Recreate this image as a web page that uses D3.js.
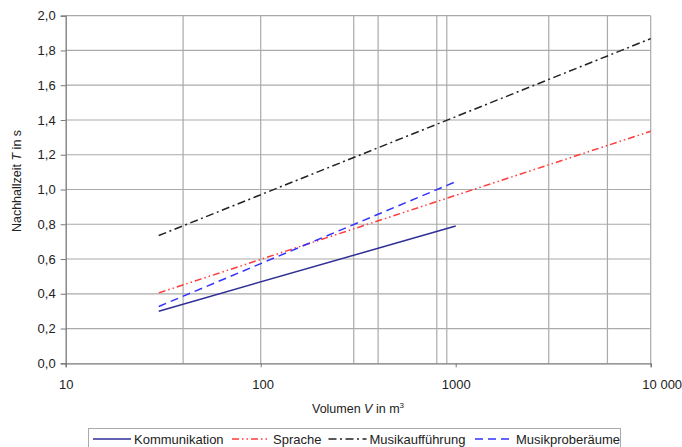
<!DOCTYPE html>
<html>
<head>
<meta charset="utf-8">
<script src="https://cdn.jsdelivr.net/npm/d3@7"></script>
<style>
  body { margin: 0; background: #fff; }
  text { font-family: "Liberation Sans", Arial, sans-serif; fill: #222; }
</style>
</head>
<body>
<div id="chart"></div>
<script>
// Chart data (volume in m3, reverberation time in s)
const seriesNames = ["Kommunikation", "Sprache", "Musikaufführung", "Musikproberäume"];
const kommunikation = [[30, 0.30], [1000, 0.79]];
const sprache = [[30, 0.405], [10000, 1.335]];
const musikauffuehrung = [[30, 0.735], [10000, 1.868]];
const musikproberaeume = [[30, 0.327], [1000, 1.045]];
const xTicks = [10, 100, 1000, 10000];
const xTickLabels = ["10", "100", "1000", "10 000"];
const xGrid = [40, 100, 300, 400, 800, 900, 3000, 6000];
const yTicks = [0, 0.2, 0.4, 0.6, 0.8, 1.0, 1.2, 1.4, 1.6, 1.8, 2.0];

const width = 682, height = 447;
const plotLeft = 65.7, plotRight = 650.7, plotTop = 15.7, plotBottom = 363.3;

const svg = d3.select("#chart").append("svg")
    .attr("width", width)
    .attr("height", height);

const x = d3.scaleLog().domain([10, 10000]).range([plotLeft, plotRight]);
const y = d3.scaleLinear().domain([0, 2]).range([plotBottom, plotTop]);

// horizontal grid
svg.append("g").selectAll("line")
    .data(yTicks.slice(1))
    .enter().append("line")
    .attr("x1", plotLeft).attr("x2", plotRight)
    .attr("y1", d => y(d)).attr("y2", d => y(d))
    .attr("stroke", "#aaa").attr("stroke-width", 1.2);

// vertical grid
svg.append("g").selectAll("line")
    .data(xGrid)
    .enter().append("line")
    .attr("x1", d => x(d)).attr("x2", d => x(d))
    .attr("y1", plotTop).attr("y2", plotBottom)
    .attr("stroke", "#aaa").attr("stroke-width", 1.2);

// right border
svg.append("line")
    .attr("x1", plotRight).attr("x2", plotRight)
    .attr("y1", plotTop).attr("y2", plotBottom)
    .attr("stroke", "#aaa").attr("stroke-width", 1.2);

// y axis
const yAxis = svg.append("g")
    .attr("transform", `translate(${plotLeft},0)`)
    .call(d3.axisLeft(y).tickValues(yTicks).tickSize(5).tickPadding(5)
        .tickFormat(d => d3.format(".1f")(d).replace(".", ",")));
yAxis.select(".domain").attr("stroke", "#777").attr("stroke-width", 1.3);
yAxis.selectAll(".tick line").attr("stroke", "#777");
yAxis.selectAll("text").attr("font-size", 13).attr("fill", "#222")
    .attr("font-family", "Liberation Sans, Arial, sans-serif");

// x axis
const xAxis = svg.append("g")
    .attr("transform", `translate(0,${plotBottom})`)
    .call(d3.axisBottom(x).tickValues(xTicks).tickSize(4).tickPadding(12)
        .tickFormat((d, i) => xTickLabels[i]));
xAxis.select(".domain").attr("stroke", "#777").attr("stroke-width", 1.3);
xAxis.selectAll(".tick line").attr("stroke", "#777");
xAxis.selectAll("text").attr("font-size", 13).attr("fill", "#222")
    .attr("font-family", "Liberation Sans, Arial, sans-serif")
    .attr("dx", (d, i) => i === 3 ? 11 : (i === 1 ? 2 : 0));

// axis titles
const yTitle = svg.append("text")
    .attr("transform", `translate(21,181) rotate(-90)`)
    .attr("text-anchor", "middle")
    .attr("font-size", 12.5);
yTitle.append("tspan").text("Nachhallzeit ");
yTitle.append("tspan").attr("font-style", "italic").text("T");
yTitle.append("tspan").text(" in s");

const xTitle = svg.append("text")
    .attr("x", 358).attr("y", 413)
    .attr("text-anchor", "middle")
    .attr("font-size", 12.5);
xTitle.append("tspan").text("Volumen ");
xTitle.append("tspan").attr("font-style", "italic").text("V");
xTitle.append("tspan").text(" in m");
xTitle.append("tspan").attr("font-size", 8).attr("dy", -5).text("3");

// series
const series = [
    { name: seriesNames[0], data: kommunikation, color: "#2e2e96", dash: null },
    { name: seriesNames[1], data: sprache, color: "#ff3b3b", dash: "7,3,1.5,3,1.5,3" },
    { name: seriesNames[2], data: musikauffuehrung, color: "#222", dash: "8,3.5,2,3.5" },
    { name: seriesNames[3], data: musikproberaeume, color: "#3232ff", dash: "8,5" }
];

const line = d3.line().x(d => x(d[0])).y(d => y(d[1]));

svg.append("g").selectAll("path")
    .data(series)
    .enter().append("path")
    .attr("d", d => line(d.data))
    .attr("fill", "none")
    .attr("stroke", d => d.color)
    .attr("stroke-width", 1.5)
    .attr("stroke-dasharray", d => d.dash);

// legend
const legend = svg.append("g");
legend.append("rect")
    .attr("x", 88.5).attr("y", 428.5)
    .attr("width", 532).attr("height", 22)
    .attr("fill", "#fff").attr("stroke", "#aaa");

const legendX = [93, 232, 328.5, 475];
const items = legend.selectAll("g.item")
    .data(series)
    .enter().append("g")
    .attr("transform", (d, i) => `translate(${legendX[i]},439)`);
items.append("line")
    .attr("x1", 0).attr("x2", 38)
    .attr("stroke", d => d.color)
    .attr("stroke-width", 1.5)
    .attr("stroke-dasharray", d => d.dash);
items.append("text")
    .attr("x", 41).attr("y", 4.5)
    .attr("font-size", 13)
    .text(d => d.name);
</script>
</body>
</html>
